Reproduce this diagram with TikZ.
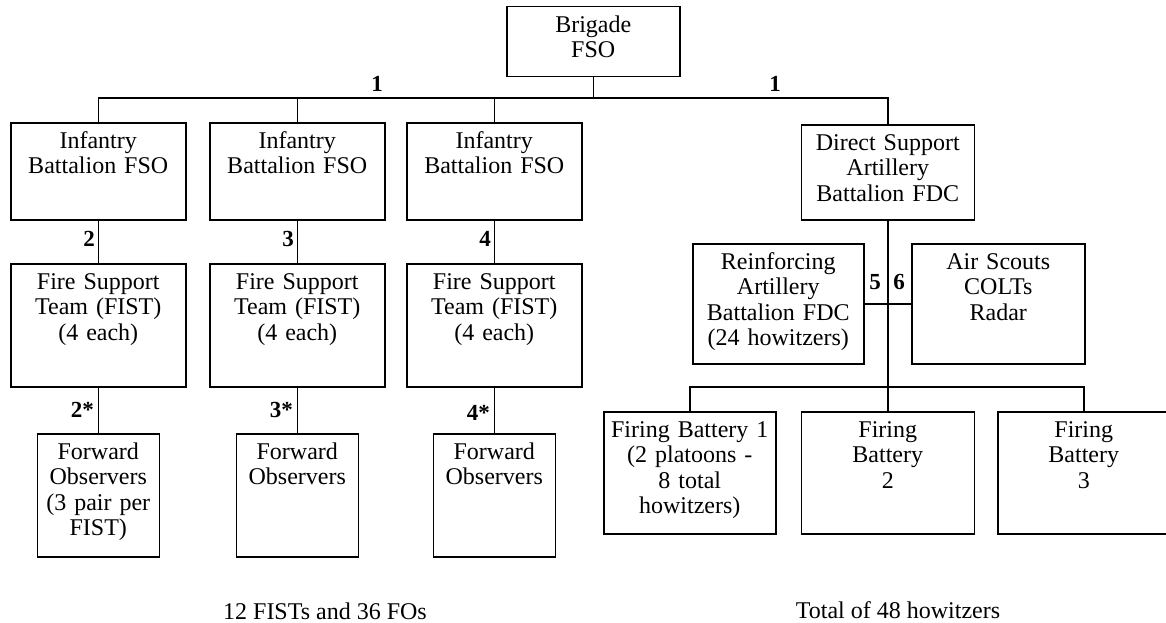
\documentclass[tikz,border=0pt]{standalone}
\usepackage{fontspec}
\setmainfont{Liberation Serif}
\begin{document}
\begin{tikzpicture}[x=1pt,y=-1pt,
  wire/.style={line width=1.5pt},
  % box: text width, text depth (box height minus the 25.5pt first-line height)
  unit/.style 2 args={draw, line width=1.5pt, inner sep=0pt, anchor=north west,
    align=center, text width=#1, text height=25.5pt, text depth=#2,
    font=\fontsize{24}{25.5}\selectfont},
  tag/.style={inner sep=0pt, font=\fontsize{23}{23}\selectfont\bfseries},
  note/.style={inner sep=0pt, font=\fontsize{24}{25.5}\selectfont}]
\useasboundingbox (0,0) rectangle (1166,623);
\clip (0,0) rectangle (1166,623);

% top level
\node[unit={173pt}{44.5pt}] (brig) at (506,6) {Brigade\\FSO};

% infantry branch
\node[unit={175pt}{71.5pt}] (inf1) at (10,122) {Infantry\\Battalion FSO};
\node[unit={175pt}{71.5pt}] (inf2) at (209,122) {Infantry\\Battalion FSO};
\node[unit={175pt}{71.5pt}] (inf3) at (406,122) {Infantry\\Battalion FSO};

\node[unit={175pt}{97.5pt}] (fist1) at (10,263) {Fire Support\\Team (FIST)\\(4 each)};
\node[unit={175pt}{97.5pt}] (fist2) at (209,263) {Fire Support\\Team (FIST)\\(4 each)};
\node[unit={175pt}{97.5pt}] (fist3) at (406,263) {Fire Support\\Team (FIST)\\(4 each)};

\node[unit={122pt}{97.5pt}] (fo1) at (36.5,433) {Forward\\Observers\\(3 pair per\\FIST)};
\node[unit={122pt}{97.5pt}] (fo2) at (235.5,433) {Forward\\Observers};
\node[unit={122pt}{97.5pt}] (fo3) at (432.5,433) {Forward\\Observers};

% artillery branch
\node[unit={173pt}{69.5pt}] (ds) at (800.5,124) {Direct Support\\Artillery\\Battalion FDC};
\node[unit={171pt}{94.5pt}] (reinf) at (692,243) {Reinforcing\\Artillery\\Battalion FDC\\(24 howitzers)};
\node[unit={173pt}{94.5pt}] (air) at (911,243) {Air Scouts\\COLTs\\Radar};

\node[unit={172pt}{96.5pt}] (fb1) at (603,411) {Firing Battery 1\\(2 platoons -\\8 total\\howitzers)};
\node[unit={173pt}{96.5pt}] (fb2) at (800.5,411) {Firing\\Battery\\2};
\node[unit={172pt}{96.5pt}] (fb3) at (997,411) {Firing\\Battery\\3};

% bus lines
\coordinate (busA) at (0,98);
\coordinate (busB) at (0,387);

\draw[wire] (brig.south) -- (brig.south |- busA);
\draw[wire] (inf1.north) -- (inf1.north |- busA) -| (ds.north);
\draw[wire] (inf2.north) -- (inf2.north |- busA);
\draw[wire] (inf3.north) -- (inf3.north |- busA);

\draw[wire] (inf1.south) -- (fist1.north);
\draw[wire] (inf2.south) -- (fist2.north);
\draw[wire] (inf3.south) -- (fist3.north);
\draw[wire] (fist1.south) -- (fo1.north);
\draw[wire] (fist2.south) -- (fo2.north);
\draw[wire] (fist3.south) -- (fo3.north);

\draw[wire] (ds.south) -- (fb2.north);
\draw[wire] (reinf.east) -- (air.west);
\draw[wire] (fb1.north) -- (fb1.north |- busB) -| (fb3.north);

% link numbers
\node[tag] (n1a) at (377,84) {1};
\node[tag] (n1b) at (775,84) {1};
\node[tag, anchor=east] (n2) at (95,238.5) {2};
\node[tag, anchor=east] (n3) at (294,238.5) {3};
\node[tag, anchor=east] (n4) at (491,238.5) {4};
\node[tag, anchor=east] (n2s) at (94,410) {2*};
\node[tag, anchor=east] (n3s) at (293,410) {3*};
\node[tag, anchor=east] (n4s) at (490,413) {4*};
\node[tag] (n5) at (875,282) {5};
\node[tag] (n6) at (899,282) {6};

% totals
\node[note] (totA) at (325,611) {12 FISTs and 36 FOs};
\node[note] (totB) at (898,610) {Total of 48 howitzers};
\end{tikzpicture}
\end{document}
